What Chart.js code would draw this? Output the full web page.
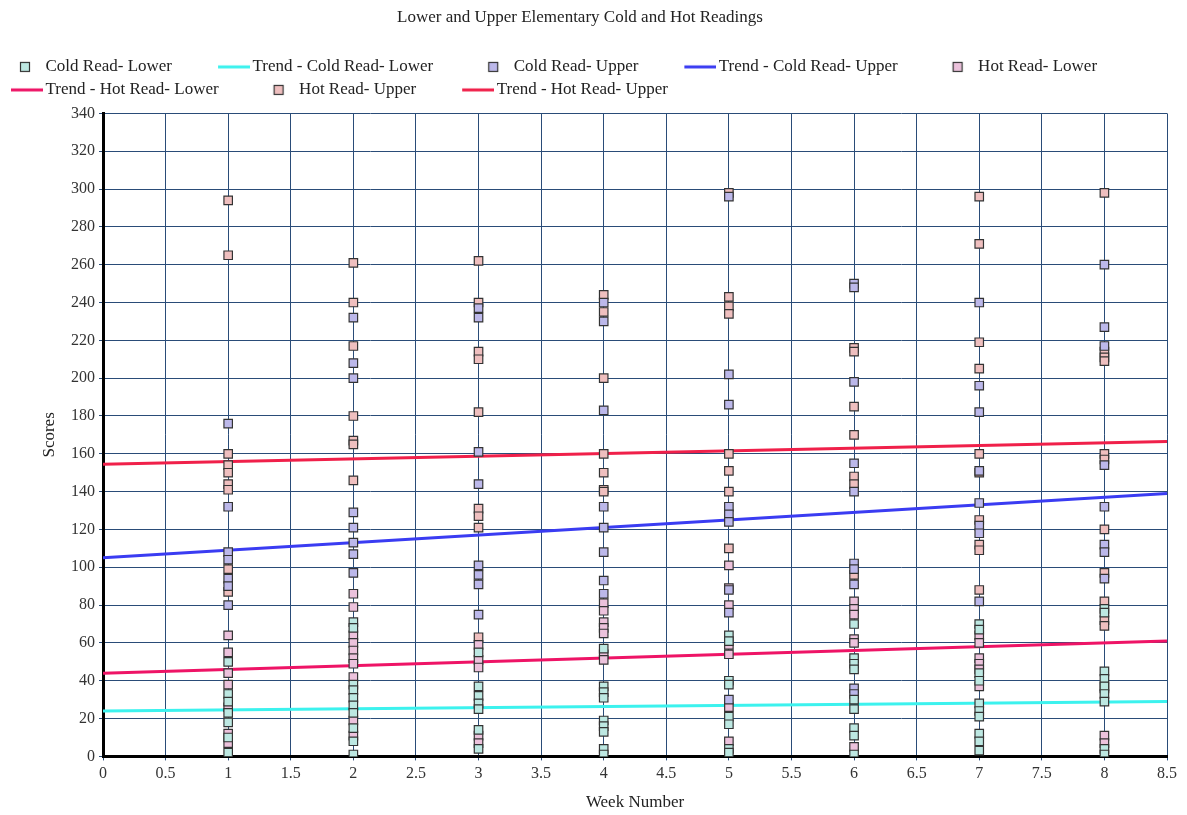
<!DOCTYPE html>
<html>
<head>
<meta charset="utf-8">
<script src="https://cdn.jsdelivr.net/npm/chart.js@4"></script>
<style>
  html, body { margin: 0; padding: 0; background: #fff; }
  #wrap { width: 1187px; height: 815px; }
</style>
</head>
<body>
<div id="wrap"><canvas id="Chart1"></canvas></div>
<script>
// values read per week (x = 1..8)
const weeks = [1, 2, 3, 4, 5, 6, 7, 8]

const coldLower = [
    [50, 33, 29, 23, 18, 10, 2],
    [71, 68, 38, 35, 31, 27, 23, 15, 8, 1],
    [55, 37, 32, 28, 25, 14, 4],
    [57, 37, 34, 31, 19, 16, 13, 4, 1],
    [64, 61, 40, 38, 21, 17, 4, 2],
    [70, 52, 49, 46, 30, 25, 15, 11, 1],
    [70, 67, 44, 40, 28, 24, 21, 12, 8, 3],
    [78, 76, 45, 41, 37, 33, 29, 4, 1]
]
const coldUpper = [
    [176, 132, 108, 104, 94, 90, 80],
    [232, 208, 200, 129, 121, 113, 107, 97],
    [237, 232, 161, 144, 101, 96, 91, 75],
    [240, 230, 183, 132, 121, 108, 93, 86],
    [296, 202, 186, 132, 128, 124, 88, 76, 30],
    [250, 248, 198, 155, 140, 102, 99, 91, 36, 33],
    [240, 196, 182, 151, 134, 122, 118, 82],
    [260, 227, 217, 154, 132, 112, 108, 94]
]
const hotLower = [
    [64, 55, 44, 38, 26, 12, 7],
    [86, 79, 64, 60, 56, 52, 49, 42, 19, 11],
    [59, 51, 47, 11, 7],
    [81, 77, 71, 68, 65, 54, 51],
    [101, 89, 80, 59, 54, 26, 8],
    [82, 78, 75, 62, 60, 5],
    [64, 60, 52, 49, 46, 37],
    [36, 11, 7]
]
const hotUpper = [
    [294, 265, 160, 154, 150, 144, 141, 99, 87],
    [261, 240, 217, 180, 167, 165, 146],
    [262, 240, 214, 210, 182, 131, 127, 121, 63],
    [244, 235, 200, 160, 150, 141, 140],
    [298, 243, 238, 234, 160, 151, 140, 110],
    [216, 214, 185, 170, 148, 144, 96],
    [296, 271, 219, 205, 160, 150, 125, 112, 109, 88],
    [298, 214, 211, 209, 160, 157, 120, 97, 82, 72, 69]
]

// trend lines, ends at x = 0 and x = 8.5
const trendX = [0, 8.5]
const trendColdLower = [24, 29]
const trendColdUpper = [105, 139]
const trendHotLower = [44, 61]
const trendHotUpper = [154.5, 166.5]

const xTicks = ['0', '0.5', '1', '1.5', '2', '2.5', '3', '3.5', '4', '4.5', '5', '5.5', '6', '6.5', '7', '7.5', '8', '8.5']

const serif = 'Liberation Serif'
const boxW = 66

const toPoints = (series) => weeks.flatMap((w, i) => series[i].map(v => ({ x: w, y: v })))
const toLine = (ys) => trendX.map((x, i) => ({ x, y: ys[i] }))

const squareIcon = (fill) => {
    const c = document.createElement('canvas')
    c.width = boxW + 12
    c.height = 16
    const ctx = c.getContext('2d')
    ctx.fillStyle = fill
    ctx.strokeStyle = '#333'
    ctx.lineWidth = 1.2
    ctx.fillRect(boxW - 11, 3, 10, 10)
    ctx.strokeRect(boxW - 11 + 0.5, 3.5, 9, 9)
    return c
}
const lineIcon = (color) => {
    const c = document.createElement('canvas')
    c.width = boxW + 12
    c.height = 16
    const ctx = c.getContext('2d')
    ctx.fillStyle = color
    ctx.fillRect(boxW - 20, 6.5, 32, 3)
    return c
}

const scatterSet = (label, series, fill) => ({
    label,
    data: toPoints(series),
    backgroundColor: fill,
    borderColor: '#333',
    borderWidth: 1.2,
    pointStyle: 'rect',
    pointRadius: 6,
    pointHoverRadius: 6,
    showLine: false,
    order: 0,
    icon: squareIcon(fill)
})
const trendSet = (label, ys, color) => ({
    label,
    data: toLine(ys),
    borderColor: color,
    backgroundColor: color,
    borderWidth: 3,
    pointRadius: 0,
    showLine: true,
    fill: false,
    order: 1,
    icon: lineIcon(color)
})

const legendGap = {
    id: 'legendGap',
    beforeLayout(chart) {
        const legend = chart.legend
        if (legend && !legend._gapDone) {
            legend._gapDone = true
            const fit = legend.fit
            legend.fit = function () {
                fit.call(this)
                this.height += 5
            }
        }
    }
}

const renderChart = () => {
    const data = {
        datasets: [
            scatterSet('Cold Read- Lower', coldLower, '#bde8e2'),
            trendSet('Trend - Cold Read- Lower', trendColdLower, '#3cf2ee'),
            scatterSet('Cold Read- Upper', coldUpper, '#bcb8ea'),
            trendSet('Trend - Cold Read- Upper', trendColdUpper, '#3a3cf2'),
            scatterSet('Hot Read- Lower', hotLower, '#ecc2dc'),
            trendSet('Trend - Hot Read- Lower', trendHotLower, '#ee1466'),
            scatterSet('Hot Read- Upper', hotUpper, '#efbfbf'),
            trendSet('Trend - Hot Read- Upper', trendHotUpper, '#f0204a')
        ]
    }

    new Chart('Chart1', {
        type: 'scatter',
        data,
        plugins: [legendGap],
        options: {
            responsive: true,
            maintainAspectRatio: false,
            animation: false,
            layout: { padding: { left: -35, right: -8, top: 0, bottom: 0 } },
            plugins: {
                tooltip: { enabled: false },
                title: {
                    display: true,
                    text: 'Lower and Upper Elementary Cold and Hot Readings',
                    color: '#222',
                    font: { family: serif, size: 17, weight: 'normal' },
                    padding: { top: 7, bottom: 25 }
                },
                legend: {
                    align: 'start',
                    labels: {
                        color: '#222',
                        font: { family: serif, size: 17 },
                        padding: 6,
                        usePointStyle: true,
                        pointStyleWidth: boxW,
                        sort: (a, b) => a.datasetIndex - b.datasetIndex,
                        generateLabels: (chart) => Chart.defaults.plugins.legend.labels.generateLabels(chart)
                            .map(item => ({ ...item, pointStyle: chart.data.datasets[item.datasetIndex].icon }))
                    }
                }
            },
            scales: {
                x: {
                    type: 'linear',
                    min: 0,
                    max: 8.5,
                    afterFit: s => { s.paddingRight = 20 },
                    afterBuildTicks: s => { s.ticks = xTicks.map(t => ({ value: Number(t) })) },
                    ticks: {
                        autoSkip: false,
                        maxRotation: 0,
                        padding: 4,
                        color: '#333',
                        font: { family: serif, size: 16 },
                        callback: (v, i) => xTicks[i]
                    },
                    grid: { color: '#2a4c78', lineWidth: 1, tickLength: 4 },
                    border: { color: '#000', width: 3 },
                    title: {
                        display: true,
                        text: 'Week Number',
                        color: '#222',
                        font: { family: serif, size: 17 },
                        padding: { top: 5, bottom: 2 }
                    }
                },
                y: {
                    min: 0,
                    max: 340,
                    afterFit: s => { s.width = 138 },
                    ticks: {
                        stepSize: 20,
                        autoSkip: false,
                        padding: 4,
                        color: '#333',
                        font: { family: serif, size: 16 }
                    },
                    grid: { color: '#2a4c78', lineWidth: 1, tickLength: 4 },
                    border: { color: '#000', width: 3 },
                    title: {
                        display: true,
                        text: 'Scores',
                        color: '#222',
                        font: { family: serif, size: 17 },
                        padding: { top: 74, bottom: 0 }
                    }
                }
            }
        }
    })
}

renderChart()
</script>
</body>
</html>
